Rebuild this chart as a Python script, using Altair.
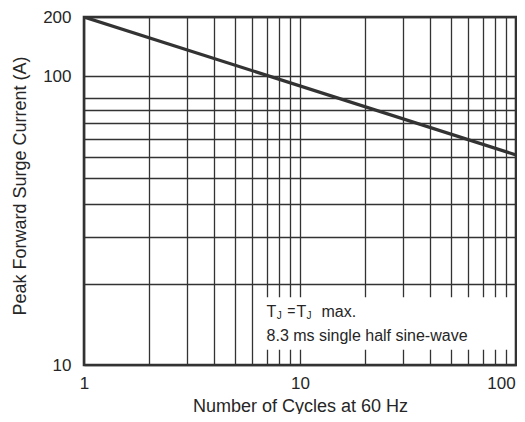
import altair as alt
import pandas as pd

# ---- data ----
cycles = [1, 100]
surge_current = [200, 61]

x_grid_values = [1, 2, 3, 4, 5, 6, 7, 8, 9, 10, 20, 30, 40, 50, 60, 70, 80, 90, 100]
x_tick_values = [1, 10, 100]
x_tick_labels = ["1", "10", "100"]

y_grid_values = [10, 20, 30, 40, 50, 60, 70, 80, 90, 100, 120, 200]
y_tick_values = [10, 120, 200]
y_tick_labels = ["10", "100", "200"]

note_box_x = [6.12, 97.9]
note_box_y = [11.4, 17.9]
note_x = 7.0
note_line1_y = 15.12
note_line2_y = 12.29
note_line1_parts = ["T", "J", "=", "T", "J", "max."]
note_line1_sizes = [16, 10, 14, 16, 10, 16]
note_line1_dx = [0, 10.2, 20.8, 30, 40, 55]
note_line1_dy = [0, 2.5, -0.5, 0, 2.5, 0]
note_line2 = "8.3 ms single half sine-wave"

FONT = "Liberation Sans"
DARK = "#333333"
TEXT = "#262626"


def label_expr(values, labels):
    expr = "''"
    for v, l in reversed(list(zip(values, labels))):
        expr = f"datum.value == {v} ? '{l}' : ({expr})"
    return expr


x_scale = alt.Scale(type="log", domain=[1, 100], nice=False)
y_scale = alt.Scale(type="log", domain=[10, 200], nice=False)

x_axis = alt.Axis(
    values=x_grid_values,
    labelExpr=label_expr(x_tick_values, x_tick_labels),
    title="Number of Cycles at 60 Hz",
    titleY=46,
    titleBaseline="alphabetic",
    labelPadding=10,
    labelFlush=False,
    labelOffset={"condition": {"test": "datum.value == 100", "value": -15}, "value": 0},
)
y_axis = alt.Axis(
    values=y_grid_values,
    labelExpr=label_expr(y_tick_values, y_tick_labels),
    title="Peak Forward Surge Current (A)",
    titleX=-59,
    titleY=168.5,
    titleBaseline="alphabetic",
    labelPadding=13,
    labelFlush=False,
)

curve_df = pd.DataFrame({"cycles": cycles, "current": surge_current})

line = alt.Chart(curve_df).mark_line(color=DARK, strokeWidth=3.2, clip=True).encode(
    x=alt.X("cycles:Q", scale=x_scale, axis=x_axis),
    y=alt.Y("current:Q", scale=y_scale, axis=y_axis),
)

box_df = pd.DataFrame({
    "x1": [note_box_x[0]], "x2": [note_box_x[1]],
    "y1": [note_box_y[0]], "y2": [note_box_y[1]],
})
box = alt.Chart(box_df).mark_rect(color="white").encode(
    x=alt.X("x1:Q", scale=x_scale, axis=x_axis),
    x2="x2",
    y=alt.Y("y1:Q", scale=y_scale, axis=y_axis),
    y2="y2",
)

layers = [line, box]

for part, size, dx, dy in zip(note_line1_parts, note_line1_sizes, note_line1_dx, note_line1_dy):
    df = pd.DataFrame({"x": [note_x], "y": [note_line1_y], "t": [part]})
    layers.append(
        alt.Chart(df).mark_text(
            align="left", baseline="alphabetic", font=FONT, fontSize=size,
            color=TEXT, dx=dx, dy=dy,
        ).encode(
            x=alt.X("x:Q", scale=x_scale, axis=x_axis),
            y=alt.Y("y:Q", scale=y_scale, axis=y_axis),
            text="t:N",
        )
    )

df2 = pd.DataFrame({"x": [note_x], "y": [note_line2_y], "t": [note_line2]})
layers.append(
    alt.Chart(df2).mark_text(
        align="left", baseline="alphabetic", font=FONT, fontSize=16, color=TEXT,
    ).encode(
        x=alt.X("x:Q", scale=x_scale, axis=x_axis),
        y=alt.Y("y:Q", scale=y_scale, axis=y_axis),
        text="t:N",
    )
)

chart = alt.layer(*layers).properties(
    width=432,
    height=348,
    background="white",
    autosize=alt.AutoSizeParams(type="none"),
    padding={"left": 76, "top": 9, "right": 1, "bottom": 49},
).configure_view(
    stroke=DARK, strokeWidth=2.6, fill="white",
).configure_axis(
    grid=True,
    gridColor=DARK,
    gridWidth=1.3,
    gridOpacity=1,
    ticks=False,
    domain=False,
    labelFont=FONT,
    labelFontSize=17,
    labelColor=TEXT,
    titleFont=FONT,
    titleFontSize=18,
    titleFontWeight="normal",
    titleColor=TEXT,
)

chart.save("out.html", embed_options={"renderer": "svg", "actions": False})
